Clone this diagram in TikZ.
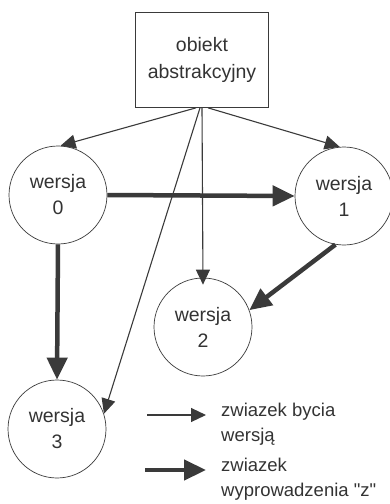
\documentclass[tikz,border=0pt]{standalone}
\usepackage{fontspec}
% plain family: keeps the straight double quote as typed
\newfontfamily\labelfont{Liberation Sans}
\usetikzlibrary{arrows.meta}
\definecolor{ink}{HTML}{3A3A3A}
\definecolor{txt}{HTML}{333333}
\tikzset{
  version/.style={circle, draw=ink, line width=0.7pt, minimum size=98pt, inner sep=0pt,
    align=center, font=\labelfont\fontsize{19.5}{26}\selectfont, text=txt},
  abstractbox/.style={draw=ink, line width=0.7pt, minimum width=133pt, minimum height=95pt,
    align=center, font=\labelfont\fontsize{19.5}{27}\selectfont, text=txt},
  legendtext/.style={anchor=north west, align=left, inner sep=0pt,
    font=\labelfont\fontsize{18.5}{25}\selectfont, text=txt},
  isversion/.style={draw=ink, line width=1.1pt, -{Triangle[length=15pt,width=14pt]}},
  derived/.style={draw=ink, line width=4.5pt, -{Triangle[length=22pt,width=20pt]}},
}
\begin{document}
\begin{tikzpicture}[x=1pt,y=-1pt]
\useasboundingbox (0,0) rectangle (390,504);
% abstract object and its versions
\node[abstractbox] (obj) at (202,60) {obiekt\\abstrakcyjny};
\node[version] (w0) at (58,195) {wersja\\0};
\node[version] (w1) at (344,196) {wersja\\1};
\node[version] (w2) at (203,327) {wersja\\2};
\node[version] (w3) at (57,429) {wersja\\3};
% "is a version of" relations
\draw[isversion] ([xshift=-6pt]obj.south) -- (w0.87);
\draw[isversion] ([xshift=6pt]obj.south) -- (w1.95);
\draw[isversion] ([xshift=0pt]obj.south) -- ([yshift=-7pt]w2.north);
\draw[isversion] ([xshift=-2pt]obj.south) -- (w3.18);
% derivation relations
\draw[derived] (w0.east) -- (w1.west);
\draw[derived] (w0.south) -- (w3.north);
\draw[derived] (w1.-100) -- (w2.20);
% legend
\coordinate (l1a) at (147,415);
\coordinate (l1b) at (206,415);
\coordinate (l2a) at (145,470);
\coordinate (l2b) at (206,470);
\draw[isversion] (l1a) -- (l1b);
\draw[derived] (l2a) -- (l2b);
\node[legendtext] (t1) at (221,403) {zwiazek bycia\\wersją};
\node[legendtext] (t2) at (221,458) {zwiazek\\wyprowadzenia "z"};
\end{tikzpicture}
\end{document}
